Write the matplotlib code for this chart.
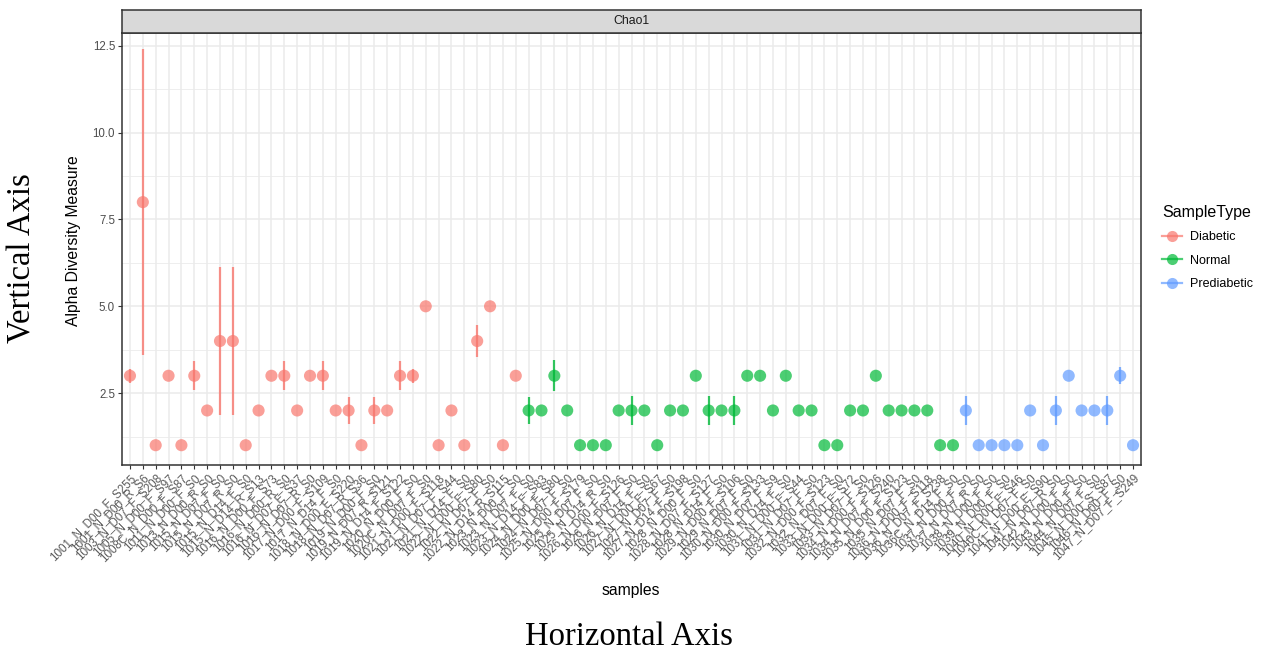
import matplotlib
matplotlib.use("Agg")
import matplotlib.pyplot as plt
from matplotlib.lines import Line2D
from matplotlib.ticker import MultipleLocator

# ---- data ----
diabetic_labels = [
    "1001_N_D00_F_S255", "1001_N_D00_R_S6", "1003_N_D07_F_S208", "1005_N_D00_F_S97",
    "1008C_N_D00_F_S87", "1011_N_D00_F_S0", "1013_N_D00_R_S0", "1015_N_D07_F_S0",
    "1015_N_D07_R_S0", "1015_N_D14_F_S0", "1015_N_D14_R_S13", "1016_N_D00_F_S73",
    "1016_N_D00_R_S0", "1016_N_D07_F_S37", "1016_N_D07_R_S0", "1017_N_D00_F_S109",
    "1017_N_D14_F_S0", "1018_N_D00_F_S220", "1018_N_D07_R_S36", "1019_N_D00_F_S0",
    "1019_N_D07_R_S121", "1019_N_D14_F_S122", "1020_N_D00_F_S0", "1020C_N_D07_F_S0",
    "1021_N_D00_F_S118", "1021_N_D07_F_S44", "1021_N_D14_F_S0", "1022_N_D00_F_S80",
    "1022_N_D07_F_S0", "1022_N_D14_R_S115", "1023_N_D00_F_S0",
]
diabetic_chao1 = [3, 8, 1, 3, 1, 3, 2, 4, 4, 1, 2, 3, 3, 2, 3, 3, 2, 2, 1, 2, 2, 3, 3, 5, 1,
                  2, 1, 4, 5, 1, 3]
diabetic_se = [0.2, 4.4, 0, 0, 0, 0.42, 0, 2.14, 2.14, 0, 0, 0, 0.42, 0, 0, 0.42, 0, 0.38, 0,
               0.38, 0, 0.42, 0.2, 0, 0, 0, 0, 0.45, 0, 0, 0]

normal_labels = [
    "1023_N_D07_F_S0", "1023_N_D14_F_S83", "1024_N_D00_F_S80", "1024_N_D07_F_S0",
    "1025_N_D00_F_S179", "1025_N_D07_F_S0", "1025_N_D14_R_S0", "1026_N_D00_F_S126",
    "1026_N_D07_F_S0", "1026_N_D14_F_S0", "1027_N_D00_F_S67", "1027_N_D07_F_S0",
    "1027_N_D14_F_S198", "1028_N_D00_F_S0", "1028_N_D07_F_S127", "1028_N_D14_F_S0",
    "1029_N_D00_F_S106", "1029_N_D07_F_S0", "1030_N_D00_F_S133", "1030_N_D07_F_S9",
    "1030_N_D14_F_S0", "1031_N_D00_F_S44", "1031_N_D07_F_S0", "1032_N_D00_F_S123",
    "1032_N_D07_F_S0", "1033_N_D00_F_S72", "1033_N_D07_F_S0", "1034_N_D00_F_S126",
    "1034_N_D07_F_S240", "1035_N_D00_F_S123", "1035_N_D07_F_S0", "1036_N_D00_F_S118",
    "1036_N_D07_F_S238", "1036C_N_D14_F_S0",
]
normal_chao1 = [2, 2, 3, 2, 1, 1, 1, 2, 2, 2, 1, 2, 2, 3, 2, 2, 2, 3, 3, 2, 3, 2, 2, 1, 1,
                2, 2, 3, 2, 2, 2, 2, 1, 1]
normal_se = [0.4, 0, 0.45, 0, 0, 0, 0, 0, 0.42, 0, 0, 0, 0, 0, 0.42, 0, 0.42, 0, 0, 0, 0, 0,
             0, 0, 0, 0, 0, 0, 0, 0, 0, 0, 0, 0]

prediabetic_labels = [
    "1037_N_D00_F_S0", "1037_N_D07_R_S0", "1038_N_D00_F_S0", "1039_N_D00_F_S0",
    "1040_N_D00_F_S46", "1040C_N_D07_F_S0", "1041_N_D00_F_S90", "1041_N_D07_R_S0",
    "1042_N_D00_F_S0", "1043_N_D00_F_S0", "1044_N_D07_F_S0", "1045_N_D00_S_S87",
    "1046_N_D00_F_S0", "1047_N_D07_F_S249",
]
prediabetic_chao1 = [2, 1, 1, 1, 1, 2, 1, 2, 3, 2, 2, 2, 3, 1]
prediabetic_se = [0.43, 0, 0, 0, 0, 0, 0, 0.43, 0, 0, 0, 0.43, 0.24, 0]

groups = ["Diabetic", "Normal", "Prediabetic"]
colors = {"Diabetic": "#F8766D", "Normal": "#00BA38", "Prediabetic": "#619CFF"}
y_ticks = [2.5, 5.0, 7.5, 10.0, 12.5]

series = [
    ("Diabetic", diabetic_labels, diabetic_chao1, diabetic_se),
    ("Normal", normal_labels, normal_chao1, normal_se),
    ("Prediabetic", prediabetic_labels, prediabetic_chao1, prediabetic_se),
]

W, H = 1269, 653
fig = plt.figure(figsize=(W / 100, H / 100), dpi=100)
fig.patch.set_facecolor("white")

# panel box in pixels
pl, pr, pt, pb = 122, 1141, 33, 465
ax = fig.add_axes([pl / W, 1 - pb / H, (pr - pl) / W, (pb - pt) / H])
ax.set_facecolor("white")

all_labels = diabetic_labels + normal_labels + prediabetic_labels
start = 0
for name, labels, vals, se in series:
    xs = list(range(start, start + len(labels)))
    c = colors[name]
    for x, v, e in zip(xs, vals, se):
        if e > 0:
            ax.plot([x, x], [v - e, v + e], color=c, lw=1.6, alpha=0.8, zorder=3,
                    solid_capstyle="butt")
    ax.scatter(xs, vals, s=76, color=c, alpha=0.7, edgecolors="none", zorder=4)
    start += len(labels)

ax.set_xlim(-0.62, len(all_labels) - 1 + 0.62)
ax.set_ylim(0.43, 12.87)
ax.set_xticks(range(len(all_labels)))
ax.set_xticklabels(all_labels, rotation=45, ha="right", va="top", rotation_mode="anchor",
                   fontsize=8.4, color="#5A5A5A", family="Liberation Sans")
ax.set_yticks(y_ticks)
ax.set_yticklabels([f"{t:.1f}" for t in y_ticks], fontsize=8.3, color="#4D4D4D",
                   family="Liberation Sans")
ax.yaxis.set_minor_locator(MultipleLocator(1.25))
ax.tick_params(axis="both", which="major", length=3, width=0.8, color="#333333", pad=2)
ax.tick_params(axis="y", which="minor", length=0)

ax.grid(True, which="major", color="#EBEBEB", lw=1.1, zorder=0)
ax.grid(True, which="minor", axis="y", color="#EBEBEB", lw=0.6, zorder=0)
ax.set_axisbelow(True)
for sp in ax.spines.values():
    sp.set_color("#333333")
    sp.set_linewidth(1.1)

ax.set_ylabel("Alpha Diversity Measure", fontsize=11.3, family="Liberation Sans",
              color="black", labelpad=8)
ax.yaxis.set_label_coords((81 - pl) / (pr - pl), 0.52)
fig.text(631 / W, 1 - 591 / H, "samples", fontsize=11.3, family="Liberation Sans",
         ha="center", va="center")

# facet strip
st_top = 9.5
sax = fig.add_axes([pl / W, 1 - pt / H, (pr - pl) / W, (pt - st_top) / H])
sax.set_facecolor("#D9D9D9")
sax.set_xticks([])
sax.set_yticks([])
for sp in sax.spines.values():
    sp.set_color("#333333")
    sp.set_linewidth(1.1)
sax.text(0.5, 0.5, "Chao1", transform=sax.transAxes, ha="center", va="center",
         fontsize=8.8, color="#1A1A1A", family="Liberation Sans")

# legend
handles = [Line2D([0], [0], color=colors[g], lw=1.6, marker="o", markersize=8,
                  markeredgewidth=0, alpha=0.7) for g in groups]
leg = fig.legend(handles, groups, loc="upper left",
                 bbox_to_anchor=(1151 / W, 1 - 194 / H), frameon=False,
                 title="SampleType", fontsize=9, title_fontsize=11.5,
                 handlelength=1.6, handletextpad=0.6, labelspacing=0.9,
                 prop={"family": "Liberation Sans", "size": 9})
leg.get_title().set_family("Liberation Sans")
leg._legend_box.align = "left"

# outer annotations
fig.text(22 / W, 1 - 258 / H, "Vertical Axis", rotation=90, ha="center", va="center",
         fontsize=23.5, family="Liberation Serif")
fig.text(629 / W, 1 - 637 / H, "Horizontal Axis", ha="center", va="center",
         fontsize=23.5, family="Liberation Serif")

fig.savefig("out.png", dpi=100, facecolor="white")
